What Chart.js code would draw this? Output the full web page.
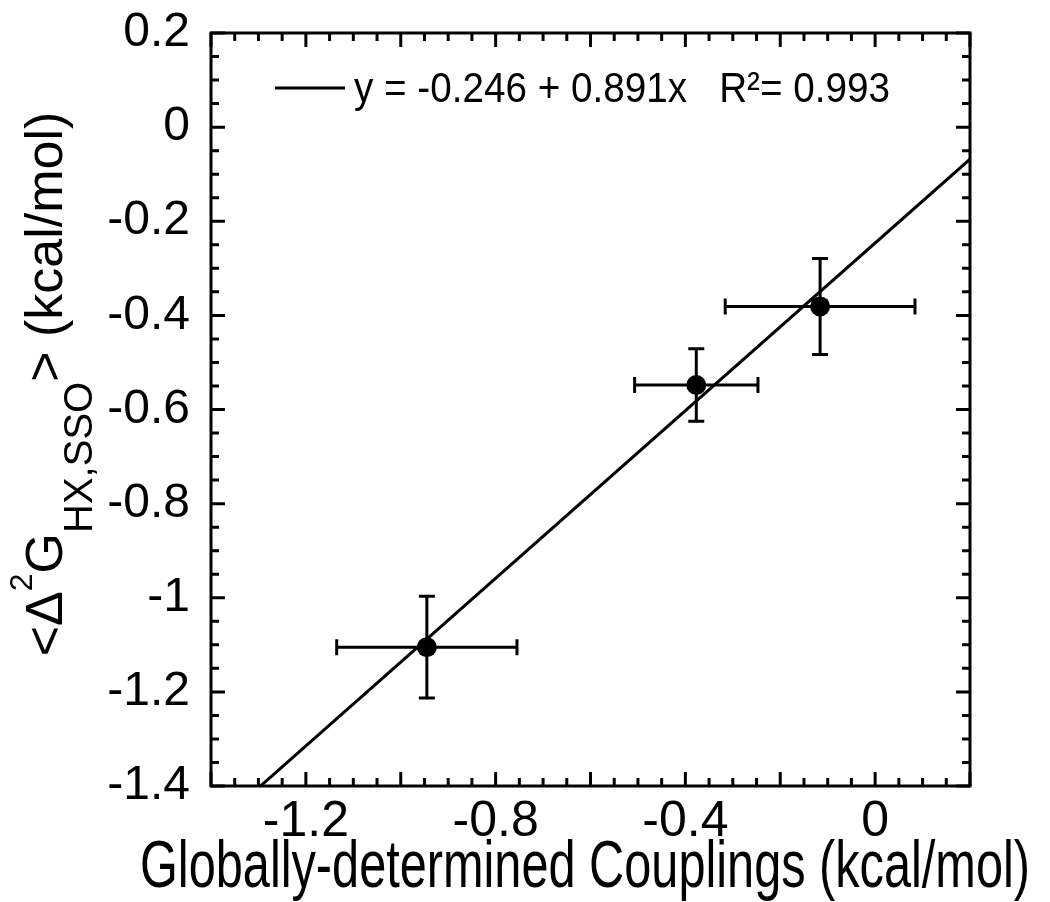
<!DOCTYPE html>
<html>
<head>
<meta charset="utf-8">
<script src="https://cdn.jsdelivr.net/npm/chart.js@4.4.1/dist/chart.umd.min.js"></script>
<style>
  html, body { margin: 0; padding: 0; background: #fff; }
</style>
</head>
<body>
<canvas id="myChart" width="1050" height="902"></canvas>
<script>
    // values
    var couplings = [-0.945, -0.377, -0.116];
    var deltaG = [-1.105, -0.548, -0.381];
    var couplingErr = [0.19, 0.13, 0.20];
    var deltaGErr = [0.108, 0.077, 0.102];
    var fitX = [-1.4, 0.2];
    var fitY = [-1.493, -0.068];
    var xTickValues = [-1.2, -0.8, -0.4, 0];
    var yTickValues = [0.2, 0, -0.2, -0.4, -0.6, -0.8, -1, -1.2, -1.4];
    var fitLabel = 'y = -0.246 + 0.891x   R\u00b2= 0.993';
    var xTitle = 'Globally-determined Couplings (kcal/mol)';

    var regular = "'Liberation Sans', Arial, sans-serif";

    var points = couplings.map(function (x, i) { return { x: x, y: deltaG[i] }; });
    var fitPoints = fitX.map(function (x, i) { return { x: x, y: fitY[i] }; });

    var errorBars = {
      id: 'errorBars',
      afterDatasetsDraw: function (chart) {
        var ctx = chart.ctx, xs = chart.scales.x, ys = chart.scales.y;
        var cap = 8;
        ctx.save();
        ctx.strokeStyle = '#000';
        ctx.lineWidth = 3;
        for (var i = 0; i < couplings.length; i++) {
          var px = xs.getPixelForValue(couplings[i]);
          var py = ys.getPixelForValue(deltaG[i]);
          var x0 = xs.getPixelForValue(couplings[i] - couplingErr[i]);
          var x1 = xs.getPixelForValue(couplings[i] + couplingErr[i]);
          var y0 = ys.getPixelForValue(deltaG[i] + deltaGErr[i]);
          var y1 = ys.getPixelForValue(deltaG[i] - deltaGErr[i]);
          ctx.beginPath();
          ctx.moveTo(x0, py); ctx.lineTo(x1, py);
          ctx.moveTo(x0, py - cap); ctx.lineTo(x0, py + cap);
          ctx.moveTo(x1, py - cap); ctx.lineTo(x1, py + cap);
          ctx.moveTo(px, y0); ctx.lineTo(px, y1);
          ctx.moveTo(px - cap, y0); ctx.lineTo(px + cap, y0);
          ctx.moveTo(px - cap, y1); ctx.lineTo(px + cap, y1);
          ctx.stroke();
        }
        ctx.restore();
      }
    };

    var frameAndLabels = {
      id: 'frameAndLabels',
      afterDraw: function (chart) {
        var ctx = chart.ctx, a = chart.chartArea;
        var xs = chart.scales.x, ys = chart.scales.y;
        ctx.save();
        ctx.strokeStyle = '#000';
        ctx.lineWidth = 3;
        ctx.strokeRect(a.left, a.top, a.right - a.left, a.bottom - a.top);

        // inward ticks on all four sides, long every 0.2, short every 0.05
        ctx.beginPath();
        var k, v, len, p;
        for (k = 0; k <= 32; k++) {
          v = xs.min + k * 0.05;
          len = (k % 4 === 0) ? 14 : 8;
          p = xs.getPixelForValue(v);
          ctx.moveTo(p, a.bottom); ctx.lineTo(p, a.bottom - len);
          ctx.moveTo(p, a.top); ctx.lineTo(p, a.top + len);
        }
        for (k = 0; k <= 32; k++) {
          v = ys.min + k * 0.05;
          len = (k % 4 === 0) ? 14 : 8;
          p = ys.getPixelForValue(v);
          ctx.moveTo(a.left, p); ctx.lineTo(a.left + len, p);
          ctx.moveTo(a.right, p); ctx.lineTo(a.right - len, p);
        }
        ctx.stroke();

        // fit legend inside the plot
        ctx.beginPath();
        ctx.moveTo(275, 88); ctx.lineTo(345, 88);
        ctx.stroke();
        ctx.fillStyle = '#000';
        ctx.font = '42px ' + regular;
        ctx.textBaseline = 'middle';
        ctx.textAlign = 'left';
        ctx.fillText(fitLabel, 354, 90, 536);

        // x title, condensed like the original
        ctx.font = '66px ' + regular;
        ctx.textAlign = 'center';
        ctx.textBaseline = 'alphabetic';
        ctx.fillText(xTitle, 585, 887, 890);

        // rotated y title with super/subscripts
        ctx.textAlign = 'left';
        var parts = [
          { t: '<\u0394', f: '52px ' + regular, dy: 0 },
          { t: '2', f: '32px ' + regular, dy: -30 },
          { t: 'G', f: '52px ' + regular, dy: 0 },
          { t: 'HX,SSO', f: '40px ' + regular, dy: 30 },
          { t: '>', f: '52px ' + regular, dy: 0 },
          { t: ' (kcal/mol)', f: '52px ' + regular, dy: 0 }
        ];
        var total = 0;
        parts.forEach(function (q) { ctx.font = q.f; q.w = ctx.measureText(q.t).width; total += q.w; });
        ctx.translate(62, 384 + total / 2);
        ctx.rotate(-Math.PI / 2);
        var cx = 0;
        parts.forEach(function (q) {
          ctx.font = q.f;
          ctx.fillText(q.t, cx, q.dy);
          cx += q.w;
        });
        ctx.restore();
      }
    };

    var ctx = document.getElementById('myChart');
    var myChart = new Chart(ctx, {
      type: 'scatter',
      data: {
        datasets: [{
          type: 'line',
          label: 'fit',
          data: fitPoints,
          borderColor: '#000',
          borderWidth: 3,
          pointRadius: 0,
          fill: false,
          clip: 0
        }, {
          label: 'couplings',
          data: points,
          backgroundColor: '#000',
          borderColor: '#000',
          pointRadius: 10,
          borderWidth: 0
        }]
      },
      options: {
        responsive: false,
        animation: false,
        layout: { padding: { top: 33, right: 80, left: 0, bottom: 0 } },
        plugins: {
          legend: { display: false },
          tooltip: { enabled: false }
        },
        scales: {
          x: {
            type: 'linear',
            min: -1.4,
            max: 0.2,
            afterBuildTicks: function (axis) {
              axis.ticks = xTickValues.map(function (v) { return { value: v }; });
            },
            afterFit: function (axis) {
              axis.height = 116;
              axis.paddingLeft = 0; axis.paddingRight = 0;
            },
            grid: { display: false, drawTicks: false },
            border: { display: false },
            ticks: {
              color: '#000',
              padding: 6,
              maxRotation: 0,
              font: { family: regular, size: 50 },
              callback: function (v) { return String(v); }
            }
          },
          y: {
            type: 'linear',
            min: -1.4,
            max: 0.2,
            afterBuildTicks: function (axis) {
              axis.ticks = yTickValues.map(function (v) { return { value: v }; });
            },
            afterFit: function (axis) {
              axis.width = 211;
              axis.paddingTop = 0; axis.paddingBottom = 0;
            },
            grid: { display: false, drawTicks: false },
            border: { display: false },
            ticks: {
              color: '#000',
              padding: 21,
              font: { family: regular, size: 48 },
              callback: function (v) { return String(v); }
            }
          }
        }
      },
      plugins: [errorBars, frameAndLabels]
    });
</script>
</body>
</html>
